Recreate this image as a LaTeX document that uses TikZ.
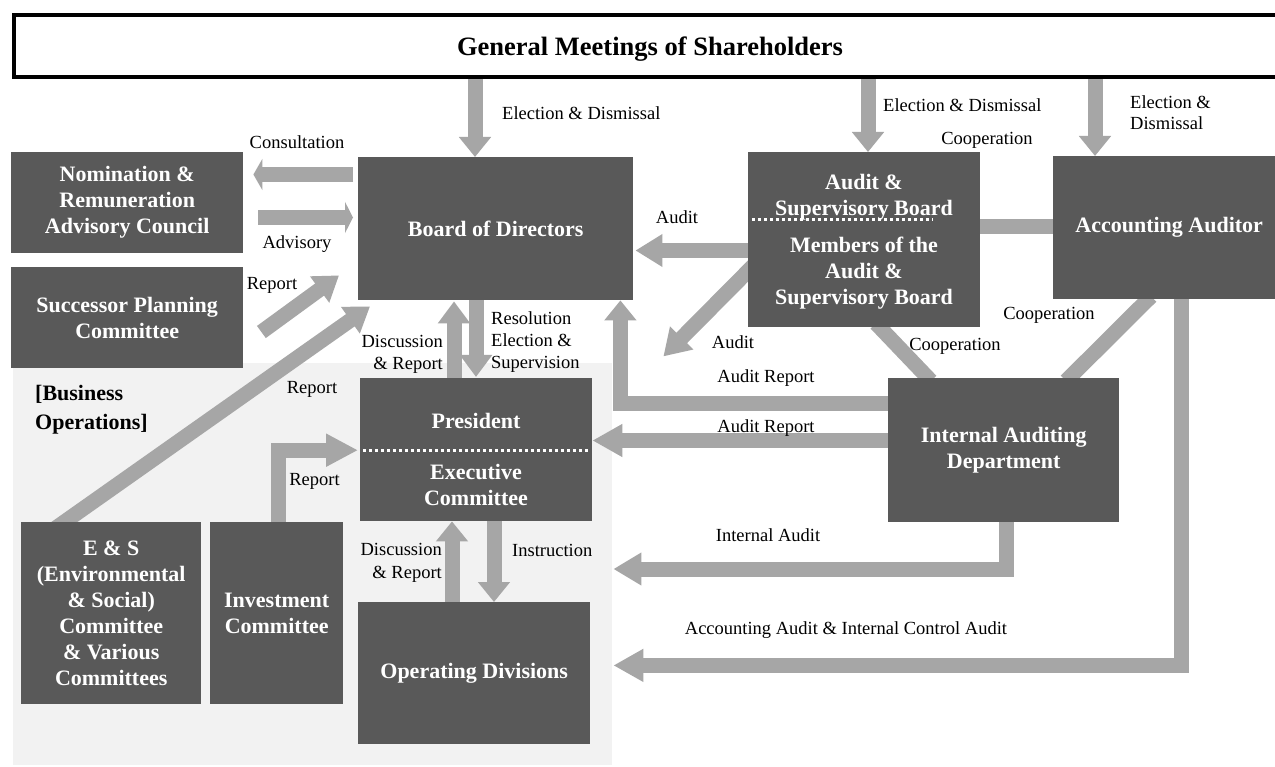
\documentclass[tikz,border=0pt]{standalone}
\usepackage{fontspec}
\setmainfont{Liberation Serif}
\usetikzlibrary{arrows.meta,calc}
\pgfdeclarelayer{back}
\pgfdeclarelayer{mid}
\pgfsetlayers{back,mid,main}
\definecolor{boxc}{HTML}{595959}
\definecolor{arrc}{HTML}{A6A6A6}
\definecolor{bgc}{HTML}{F2F2F2}
\begin{document}
\begin{tikzpicture}[x=1pt,y=-1pt,
  box/.style={fill=boxc, draw=none, inner sep=0pt, anchor=north west, text=white,
    font=\fontsize{22}{26}\selectfont\bfseries, align=center},
  btext/.style={text=white, font=\fontsize{22}{26}\selectfont\bfseries, align=center, inner sep=0pt},
  lbl/.style={font=\fontsize{18.5}{21.5}\selectfont, inner sep=0pt, text=black},
  conn/.style={draw=arrc, line width=15pt},
  arr/.style={conn, -{Triangle[width=31pt,length=#1]}},
  arr/.default=22pt,
  dots/.style={draw=white, line width=3pt, dash pattern=on 3pt off 3pt},
]
\useasboundingbox (0,0) rectangle (1275,767);
\begin{pgfonlayer}{back}
  \fill[white] (0,0) rectangle (1275,767);
  \fill[bgc] (13,363) rectangle (612,765);
\end{pgfonlayer}

% header
\node[draw=black, line width=4pt, fill=white, anchor=north west, inner sep=0pt,
  minimum width=1272pt, minimum height=62.5pt, text depth=0pt,
  font=\fontsize{26.5}{30}\selectfont\bfseries] (hdr) at (12,13) {General Meetings of Shareholders};

% boxes
\node[box, minimum width=232pt, minimum height=101pt] (nom) at (11,152) {Nomination \&\\Remuneration\\Advisory Council};
\node[box, minimum width=232pt, minimum height=101pt] (succ) at (11,267) {Successor Planning\\Committee};
\node[box, minimum width=275pt, minimum height=143pt] (bod) at (358,157) {Board of Directors};
\node[box, minimum width=232pt, minimum height=143pt] (pres) at (360,378) {};
\node[btext] (presT) at (476,421) {President};
\node[btext] (execT) at (476,485) {Executive\\Committee};
\node[box, minimum width=232pt, minimum height=175pt] (aud) at (748,152) {};
\node[btext] (audT1) at (864,197.5) {Audit \&\\Supervisory Board};
\node[btext] (audT2) at (864,273.5) {Members of the\\Audit \&\\Supervisory Board};
\node[box, minimum width=232pt, minimum height=143pt] (acc) at (1053,156) {Accounting Auditor};
\node[box, minimum width=231pt, minimum height=144pt] (ia) at (888,378) {Internal Auditing\\Department};
\node[box, minimum width=180pt, minimum height=182pt] (es) at (21,522) {E \& S\\(Environmental\\\& Social)\\Committee\\\& Various\\Committees};
\node[box, minimum width=133pt, minimum height=182pt] (inv) at (210,522) {Investment\\Committee};
\node[box, minimum width=232pt, minimum height=142pt] (op) at (358,602) {Operating Divisions};

% dotted separators
\draw[dots] ($(pres.west)+(3,1)$) -- ($(pres.east)+(-3,1)$);
\draw[dots] ($(aud.north west)+(4,68)$) -- ($(aud.north west)+(185,68)$);

% connectors
\begin{pgfonlayer}{mid}
  \coordinate (c1) at ($(bod.north west)+(117,0)$);
  \coordinate (c2) at ($(aud.north west)+(120,0)$);
  \coordinate (c3) at ($(acc.north west)+(42,0)$);
  \draw[arr=20pt] (hdr.south -| c1) -- (c1);
  \draw[arr=20pt] (hdr.south -| c2) -- (c2);
  \draw[arr=20pt] (hdr.south -| c3) -- (c3);
  % consultation / advisory
  \draw[arr=9pt] ($(bod.north west)+(-5,17.5)$) -- ($(nom.north east)+(10,22.5)$);
  \draw[arr=8pt] ($(nom.north east)+(15,65.5)$) -- ($(bod.north west)+(-5,60.5)$);
  % reports to board
  \draw[arr=24pt] ($(succ.north east)+(18,65)$) -- ($(bod.south west)+(-19,-25)$);
  \draw[arr=24pt] ($(es.north west)+(32,8)$) -- ($(bod.south west)+(12,6)$);
  % board <-> president
  \draw[arr=22pt] ($(pres.north west)+(94,2)$) -- ($(bod.south west)+(96,1)$);
  \draw[arr=22pt] ($(bod.south west)+(118,-2)$) -- ($(pres.north west)+(116,-1)$);
  % president <-> operating
  \draw[arr=20pt] ($(op.north west)+(94,2)$) -- ($(pres.south west)+(92,0)$);
  \draw[arr=20pt] ($(pres.south west)+(134,-2)$) -- ($(op.north west)+(136,0)$);
  % investment report
  \draw[arr=32pt] ($(inv.north west)+(68,5)$) |- ($(pres.west)+(-2,0.5)$);
  % audit
  \draw[arr=27pt] ($(aud.north west)+(5,98.5)$) -- ($(bod.north east)+(2,93.5)$);
  \draw[arr=26pt] ($(aud.north west)+(8,111)$) -- ($(bod.south east)+(30,56)$);
  % cooperation
  \draw[conn] ($(aud.north east)+(-2,75)$) -- ($(acc.north west)+(2,71)$);
  \draw[conn] ($(aud.south west)+(128,-4)$) -- ($(ia.north west)+(43,3)$);
  \draw[conn] ($(acc.south west)+(98,-3)$) -- ($(ia.north west)+(178,3)$);
  % audit reports
  \draw[arr=20pt] ($(ia.north west)+(5,25)$) -| ($(bod.south east)+(-13,0)$);
  \draw[arr=30pt] ($(ia.north west)+(5,62.5)$) -- ($(pres.north east)+(0,62.5)$);
  % internal audit
  \draw[arr=28pt] ($(ia.south west)+(118,-5)$) |- ($(op.north east)+(23,-33)$);
  % accounting audit
  \draw[arr=30pt] ($(acc.south west)+(128,-5)$) |- ($(op.south east)+(23,-79)$);
\end{pgfonlayer}

% labels
\node[lbl, anchor=west] (lE1) at (502,113) {Election \& Dismissal};
\node[lbl, anchor=west] (lE2) at (883,105) {Election \& Dismissal};
\node[lbl, anchor=west, align=left] (lE3) at (1130,112.5) {Election \&\\Dismissal};
\node[lbl] (lCoopT) at (987,140) {Cooperation};
\node[lbl] (lCons) at (297,142) {Consultation};
\node[lbl] (lAdv) at (297,244) {Advisory};
\node[lbl] (lRep1) at (272,285) {Report};
\node[lbl] (lRep2) at (312,389) {Report};
\node[lbl] (lRep3) at (314.5,481) {Report};
\node[lbl, anchor=east, align=right] (lDis1) at (443,354.3) {Discussion\\\& Report};
\node[lbl, anchor=west, align=left, font=\fontsize{18.5}{22}\selectfont] (lRes) at (491,341.8) {Resolution\\Election \&\\Supervision};
\node[lbl, anchor=east, align=right, font=\fontsize{18.5}{22.5}\selectfont] (lDis2) at (442,563) {Discussion\\\& Report};
\node[lbl, anchor=west] (lIns) at (512,550) {Instruction};
\node[lbl] (lAud1) at (677,217) {Audit};
\node[lbl] (lAud2) at (733,342) {Audit};
\node[lbl] (lCoop1) at (955,346) {Cooperation};
\node[lbl] (lCoop2) at (1049,315) {Cooperation};
\node[lbl] (lAR1) at (766,378) {Audit Report};
\node[lbl] (lAR2) at (766,428) {Audit Report};
\node[lbl] (lIA) at (768,535) {Internal Audit};
\node[lbl] (lAcc) at (846,630) {Accounting Audit \& Internal Control Audit};
\node[anchor=west, align=left, inner sep=0pt, font=\fontsize{22}{29}\selectfont\bfseries] (lBiz) at (35,409.5) {[Business\\Operations]};
\end{tikzpicture}
\end{document}
